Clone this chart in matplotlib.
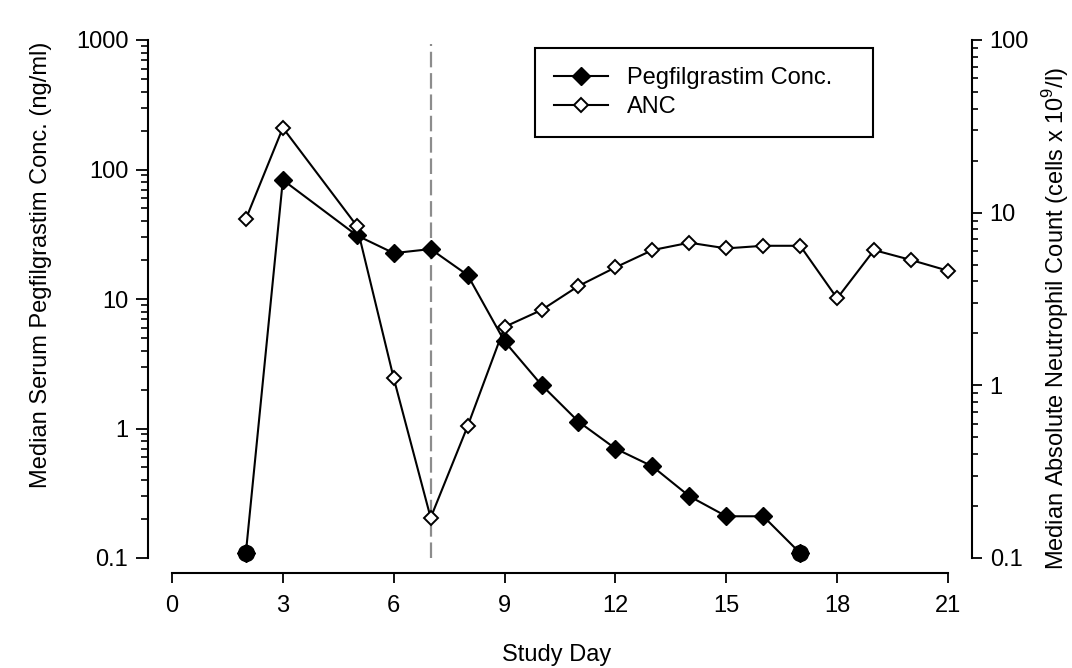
import matplotlib
matplotlib.use('Agg')
import matplotlib.pyplot as plt
from matplotlib.ticker import LogLocator, NullFormatter
from matplotlib.lines import Line2D

plt.rcParams['font.family'] = ['Liberation Sans', 'DejaVu Sans']
plt.rcParams['mathtext.fontset'] = 'custom'
plt.rcParams['mathtext.rm'] = 'Liberation Sans'

# data
peg_days = [2, 3, 5, 6, 7, 8, 9, 10, 11, 12, 13, 14, 15, 16, 17]
peg_conc = [0.11, 83, 31, 22.6, 24.3, 15.3, 4.7, 2.17, 1.13, 0.70, 0.51, 0.30, 0.21, 0.21, 0.109]
anc_days = [2, 3, 5, 6, 7, 8, 9, 10, 11, 12, 13, 14, 15, 16, 17, 18, 19, 20, 21]
anc_vals = [9.2, 31, 8.4, 1.10, 0.171, 0.58, 2.18, 2.73, 3.76, 4.82, 6.07, 6.70, 6.21, 6.43, 6.43,
            3.19, 6.07, 5.32, 4.61]
dose_day = 7
x_ticks = [0, 3, 6, 9, 12, 15, 18, 21]
left_ticks = [0.1, 1, 10, 100, 1000]
left_labels = ['0.1', '1', '10', '100', '1000']
right_ticks = [0.1, 1, 10, 100]
right_labels = ['0.1', '1', '10', '100']

W, H = 1072, 668
fs = 17
fig = plt.figure(figsize=(W / 100, H / 100), dpi=100)
ax = fig.add_axes([172 / W, 1 - 558 / H, 776 / W, 518 / H])
ax2 = ax.twinx()

# pegfilgrastim on left axis
ax.plot(peg_days, peg_conc, color='black', lw=1.5, marker='D', ms=8.8,
        mfc='black', mec='black', zorder=3, clip_on=False)
ax.plot([peg_days[0], peg_days[-1]], [peg_conc[0], peg_conc[-1]], ls='none',
        marker='o', ms=11.5, color='black', zorder=3, clip_on=False)
ax.axvline(dose_day, ymin=0, ymax=0.992, color='#8c8c8c', lw=1.6, dashes=(7, 2.6), zorder=1)

# ANC on right axis
ax2.plot(anc_days, anc_vals, color='black', lw=1.5, marker='D', ms=7.4,
         mfc='white', mec='black', mew=1.4, zorder=3, clip_on=False)

ax.set_xlim(0, 21)
ax.set_yscale('log')
ax.set_ylim(0.1, 1000)
ax2.set_yscale('log')
ax2.set_ylim(0.1, 100)

for a in (ax, ax2):
    a.spines['top'].set_visible(False)
    a.patch.set_visible(False)
ax.spines['right'].set_visible(False)
ax2.spines['left'].set_visible(False)
ax2.spines['bottom'].set_visible(False)
ax.spines['left'].set_position(('outward', 17))
ax.spines['bottom'].set_position(('outward', 11))
ax2.spines['right'].set_position(('outward', 17))
for sp in (ax.spines['left'], ax.spines['bottom'], ax2.spines['right']):
    sp.set_linewidth(1.5)

ax.set_xticks(x_ticks)
ax.set_xticklabels([str(t) for t in x_ticks])
ax.set_yticks(left_ticks)
ax.set_yticklabels(left_labels)
ax.yaxis.set_minor_locator(LogLocator(base=10, subs=range(2, 10)))
ax.yaxis.set_minor_formatter(NullFormatter())
ax2.set_yticks(right_ticks)
ax2.set_yticklabels(right_labels)
ax2.yaxis.set_minor_locator(LogLocator(base=10, subs=range(2, 10)))
ax2.yaxis.set_minor_formatter(NullFormatter())

ax.tick_params(axis='x', which='major', direction='out', length=7, width=1.3, labelsize=fs, pad=9)
ax.tick_params(axis='y', which='major', direction='out', length=8.5, width=1.3, labelsize=fs, pad=6)
ax.tick_params(axis='y', which='minor', direction='out', length=5, width=1.2)
ax2.tick_params(axis='y', which='major', direction='out', length=7, width=1.3, labelsize=fs, pad=6)
ax2.tick_params(axis='y', which='minor', direction='out', length=4.5, width=1.2)

fig.text(41 / W, 1 - 265 / H, 'Median Serum Pegfilgrastim Conc. (ng/ml)', rotation=90,
         ha='center', va='center', fontsize=fs)
fig.text(1056 / W, 1 - 318 / H, 'Median Absolute Neutrophil Count (cells x 10$^{9}$/l)',
         rotation=90, ha='center', va='center', fontsize=fs)
fig.text(557 / W, 1 - 655 / H, 'Study Day', ha='center', va='center', fontsize=fs)

handles = [
    Line2D([], [], color='black', lw=1.5, marker='D', ms=8.8, mfc='black', mec='black'),
    Line2D([], [], color='black', lw=1.5, marker='D', ms=7.4, mfc='white', mec='black', mew=1.4),
]
leg = ax2.legend(handles, ['Pegfilgrastim Conc.', 'ANC'], loc='upper left',
                 bbox_to_anchor=(535 / W, 1 - 137 / H, 338 / W, 89 / H),
                 bbox_transform=fig.transFigure, mode='expand', fancybox=False,
                 edgecolor='black', framealpha=1, fontsize=fs, borderpad=0.8,
                 handlelength=2.3, handletextpad=0.8, labelspacing=0.3, borderaxespad=0)
leg.get_frame().set_linewidth(1.5)

fig.savefig('out.png', dpi=100)
